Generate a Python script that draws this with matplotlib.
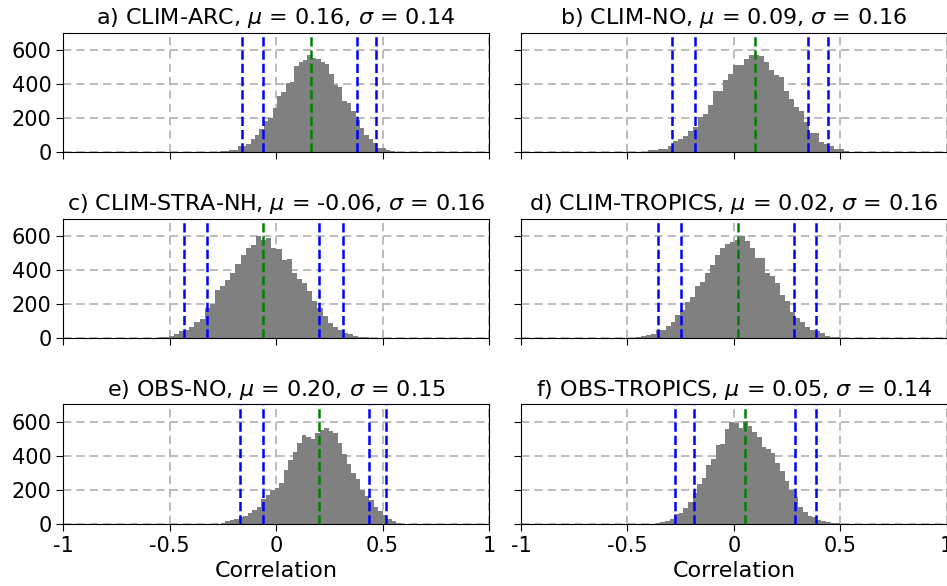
#!/usr/bin/env python3
"""Histograms of correlation for six experiments, with percentile and mean lines."""
import numpy as np
import matplotlib
matplotlib.use("Agg")
import matplotlib.pyplot as plt

plt.rcParams['axes.unicode_minus'] = False

# panel titles
titles = ['a) CLIM-ARC, $\\mu$ = 0.16, $\\sigma$ = 0.14',
          'b) CLIM-NO, $\\mu$ = 0.09, $\\sigma$ = 0.16',
          'c) CLIM-STRA-NH, $\\mu$ = -0.06, $\\sigma$ = 0.16',
          'd) CLIM-TROPICS, $\\mu$ = 0.02, $\\sigma$ = 0.16',
          'e) OBS-NO, $\\mu$ = 0.20, $\\sigma$ = 0.15',
          'f) OBS-TROPICS, $\\mu$ = 0.05, $\\sigma$ = 0.14']

# histogram range (min, max of correlations) per panel
ranges = [(-0.263, 0.558), (-0.403, 0.541), (-0.552, 0.435),
          (-0.462, 0.500), (-0.259, 0.586), (-0.367, 0.498)]

# bin counts per panel
counts_a = [8, 9, 14, 15, 37, 38, 50, 80, 100, 135, 186, 200, 260, 330, 355, 405, 414, 505, 528, 540,
            568, 555, 548, 530, 515, 460, 395, 385, 302, 290, 245, 190, 140, 100, 78, 55, 28, 24, 15, 8]
counts_b = [12, 14, 22, 22, 37, 67, 80, 96, 125, 147, 206, 225, 278, 360, 360, 421, 459, 512, 512, 549,
            569, 573, 563, 531, 484, 451, 440, 357, 312, 268, 243, 175, 112, 112, 63, 49, 37, 20, 20, 8]
counts_c = [6, 8, 14, 24, 45, 50, 67, 95, 114, 175, 200, 285, 309, 339, 384, 433, 486, 526, 545, 600,
            575, 590, 528, 520, 459, 465, 384, 345, 325, 276, 220, 177, 128, 89, 69, 49, 33, 26, 14, 8, 8]
counts_d = [6, 14, 20, 28, 47, 49, 73, 98, 138, 167, 213, 240, 309, 331, 384, 427, 486, 531, 555, 561,
            575, 600, 571, 526, 472, 468, 384, 364, 325, 256, 220, 154, 118, 94, 69, 49, 43, 33, 14, 10, 6]
counts_e = [4, 18, 24, 28, 39, 47, 67, 83, 102, 146, 171, 200, 209, 240, 319, 372, 423, 476, 520, 508,
            500, 530, 551, 561, 545, 530, 476, 407, 354, 299, 264, 197, 165, 142, 102, 79, 53, 31, 18, 8]
counts_f = [4, 12, 18, 28, 60, 63, 93, 126, 181, 236, 270, 343, 378, 461, 470, 555, 598, 594, 565, 604,
            575, 539, 512, 451, 441, 417, 358, 309, 254, 201, 157, 98, 73, 47, 39, 24, 20, 12, 6, 4]
counts = [counts_a, counts_b, counts_c, counts_d, counts_e, counts_f]

# mean (green) and outer / inner percentiles (blue)
means = [0.162, 0.097, -0.062, 0.020, 0.203, 0.050]
pct_lines = [(-0.160, -0.063, 0.382, 0.469),
             (-0.291, -0.181, 0.346, 0.443),
             (-0.431, -0.325, 0.203, 0.313),
             (-0.356, -0.249, 0.282, 0.387),
             (-0.168, -0.061, 0.436, 0.517),
             (-0.277, -0.187, 0.288, 0.384)]

xticks = [-1, -0.5, 0, 0.5, 1]
xticklabels = ['-1', '-0.5', '0', '0.5', '1']
yticks = [0, 200, 400, 600]


def main():
    fig = plt.figure(figsize=(9.47, 5.86), dpi=100)
    lefts = [0.0668, 0.5502]
    bottoms = [0.740, 0.4227, 0.1058]
    w, h = 0.4495, 0.2040
    for k in range(6):
        r, c = divmod(k, 2)
        ax = fig.add_axes([lefts[c], bottoms[r], w, h])
        lo, hi = ranges[k]
        edges = np.linspace(lo, hi, len(counts[k]) + 1)
        ax.stairs(counts[k], edges, fill=True, color='grey', zorder=2)
        for xv in pct_lines[k]:
            ax.axvline(xv, color='b', ls='--', lw=1.8, zorder=3)
        ax.axvline(means[k], color='g', ls='--', lw=1.8, zorder=3)
        ax.set_xlim(-1, 1); ax.set_ylim(0, 700)
        ax.set_xticks(xticks); ax.set_yticks(yticks)
        ax.grid(True, ls=(0, (5, 3)), color='#b0b0b0', lw=1.2, zorder=0)
        ax.set_axisbelow(True)
        ax.tick_params(labelsize=15, length=5)
        if r == 2:
            ax.set_xticklabels(xticklabels)
            ax.set_xlabel('Correlation', fontsize=16)
        else:
            ax.set_xticklabels([])
        if c == 1:
            ax.set_yticklabels([])
        ax.set_title(titles[k], fontsize=16)
    plt.savefig('out.png', dpi=100)
    plt.close()


if __name__ == "__main__": main()
